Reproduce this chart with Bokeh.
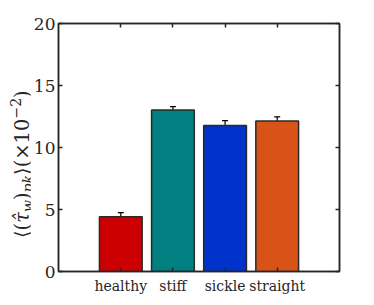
import numpy as np
from bokeh.plotting import figure
from bokeh.layouts import row
from bokeh.models import Range1d, LinearAxis, FixedTicker, Whisker, ColumnDataSource, TeeHead, Div
from bokeh.embed import file_html
from bokeh.resources import INLINE

categories = ["healthy", "stiff", "sickle", "straight"]
values = [4.42, 13.03, 11.77, 12.14]
errors = [0.33, 0.27, 0.39, 0.33]
colors = ["#CC0000", "#008080", "#0033CC", "#D95319"]
y_ticks = [0, 5, 10, 15, 20]

x = list(np.arange(1, len(categories) + 1))
src = ColumnDataSource(dict(x=x, top=values, lo=[v - e for v, e in zip(values, errors)],
                            hi=[v + e for v, e in zip(values, errors)], color=colors))

H = 297
LW = 30
FONT = "DejaVu Serif"
AX = "#262626"

p = figure(width=366 - LW, height=H, output_backend="svg", toolbar_location=None,
           x_range=Range1d(-0.195, len(categories) + 1.195), y_range=Range1d(0, 20),
           min_border_left=55 - LW, min_border_right=27, min_border_top=23, min_border_bottom=26,
           x_axis_location=None, y_axis_location=None)
p.grid.visible = False
p.outline_line_color = AX
p.outline_line_width = 1.5
p.border_fill_color = "white"


def style(ax, labels=True):
    ax.axis_line_color = AX
    ax.axis_line_width = 1.5
    ax.major_tick_line_color = AX
    ax.major_tick_line_width = 1.5
    ax.major_tick_in = 4
    ax.major_tick_out = 0
    ax.minor_tick_line_color = None
    ax.major_label_text_font = FONT
    ax.major_label_text_color = AX
    if not labels:
        ax.major_label_text_font_size = "0px"
        ax.major_label_text_color = None


yl = LinearAxis(ticker=FixedTicker(ticks=y_ticks))
style(yl)
yl.major_label_text_font_size = "17px"
yl.major_label_standoff = 3
p.add_layout(yl, "left")

yr = LinearAxis(ticker=FixedTicker(ticks=y_ticks))
style(yr, labels=False)
p.add_layout(yr, "right")

xb = LinearAxis(ticker=FixedTicker(ticks=x))
style(xb)
xb.major_label_overrides = {int(i): c for i, c in zip(x, categories)}
xb.major_label_text_font_size = "14px"
xb.major_label_standoff = 6
p.add_layout(xb, "below")

xt = LinearAxis(ticker=FixedTicker(ticks=x))
style(xt, labels=False)
p.add_layout(xt, "above")

p.vbar(x="x", top="top", width=0.82, bottom=0, source=src, fill_color="color",
       line_color="#2a2a2a", line_width=1.5)

wh = Whisker(base="x", upper="hi", lower="lo", source=src, line_color="black", line_width=1.2,
             upper_head=TeeHead(size=6, line_color="black", line_width=1.2),
             lower_head=TeeHead(size=6, line_color="black", line_width=1.2))
p.add_layout(wh)

# rotated y-axis label as HTML text (sub/superscripts)
sub = "font-size:14px;vertical-align:-4px;font-style:italic;"
sup = "font-size:14px;vertical-align:8px;"
label_html = (
    '<div style="position:absolute;left:6px;top:238px;transform:rotate(-90deg);'
    'transform-origin:left top;white-space:nowrap;font-family:\'DejaVu Serif\';'
    'font-size:19.5px;line-height:20px;color:#262626;">'
    '\u27e8(<i>\u03c4\u0302</i><span style="' + sub + '">w</span>)'
    '<span style="' + sub + '">pk</span>\u27e9(\u00d710'
    '<span style="' + sup + '">\u22122</span>)</div>'
)
lab = Div(text=label_html, width=LW, height=H, margin=0,
          styles={"position": "relative", "overflow": "visible"})

layout = row(lab, p, spacing=0)
open("out.html", "w").write(file_html(layout, INLINE))
